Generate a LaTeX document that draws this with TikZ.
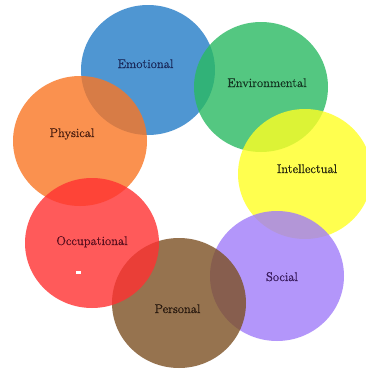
\documentclass[tikz,border=0pt]{standalone}
\usepackage{fontspec}
\newfontfamily\lblfont{Latin Modern Roman}[FakeBold=0.7]
\begin{document}
\begin{tikzpicture}[x=1pt,y=-1pt,
  disc/.style={fill opacity=0.8},
  lbl/.style={anchor=base,inner sep=0pt,font=\lblfont\fontsize{12.6}{14}\selectfont}]
\definecolor{cEmo}{RGB}{36,124,199}
\definecolor{cPhy}{RGB}{249,118,36}
\definecolor{cEnv}{RGB}{42,186,98}
\definecolor{cInt}{RGB}{255,255,36}
\definecolor{cSoc}{RGB}{161,124,249}
\definecolor{cPer}{RGB}{124,80,36}
\definecolor{cOcc}{RGB}{255,49,49}
\definecolor{tEmo}{RGB}{25,40,90}
\definecolor{tEnv}{RGB}{20,55,35}
\definecolor{tInt}{RGB}{40,40,15}
\definecolor{tPhy}{RGB}{75,30,15}
\definecolor{tOcc}{RGB}{90,15,30}
\definecolor{tSoc}{RGB}{55,25,90}
\definecolor{tPer}{RGB}{40,25,15}
\useasboundingbox[fill=white] (0,0) rectangle (366,370);
% overlapping wellness circles, back to front
\fill[disc,cEmo] (148,70)  ellipse [x radius=67,y radius=65];
\fill[disc,cPhy] (80,141)  ellipse [x radius=67,y radius=65];
\fill[disc,cEnv] (261,87)  ellipse [x radius=67,y radius=65];
\fill[disc,cInt] (305,174) ellipse [x radius=67,y radius=65];
\fill[disc,cSoc] (277,276) ellipse [x radius=67,y radius=65];
\fill[disc,cPer] (179,303) ellipse [x radius=67,y radius=65];
\fill[disc,cOcc] (92,243)  ellipse [x radius=67,y radius=65];
% small white mark
\fill[white] (76,271) rectangle (81,273.5);
% labels
\node[lbl,text=tEmo] (emo) at (145.5,68) {Emotional};
\node[lbl,text=tEnv] (env) at (267,87)   {Environmental};
\node[lbl,text=tPhy] (phy) at (72,137)   {Physical};
\node[lbl,text=tInt] (int) at (307,173)  {Intellectual};
\node[lbl,text=tOcc] (occ) at (92,245)   {Occupational};
\node[lbl,text=tSoc] (soc) at (282,281)  {Social};
\node[lbl,text=tPer] (per) at (177.5,313) {Personal};
\end{tikzpicture}
\end{document}
